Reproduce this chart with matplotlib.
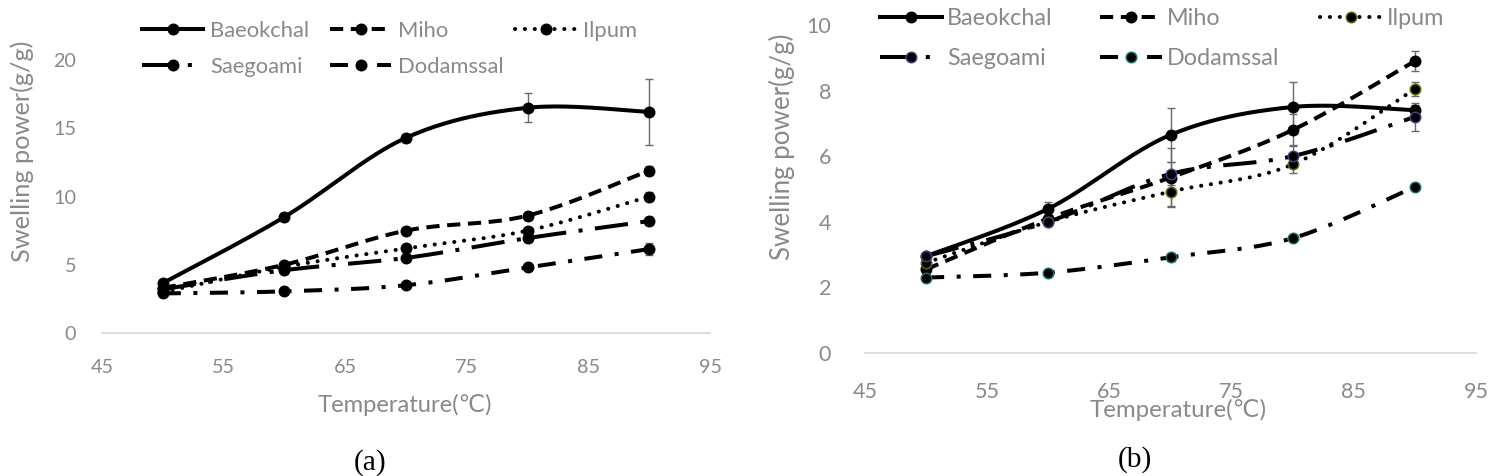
import numpy as np
import matplotlib
matplotlib.use("Agg")
import matplotlib.pyplot as plt
from matplotlib.lines import Line2D

plt.rcParams['lines.scale_dashes'] = False
plt.rcParams['font.family'] = ['Lato', 'DejaVu Sans']

# ---------------- data ----------------
temps = [50, 60, 70, 80, 90]
varieties = ["Baeokchal", "Miho", "Ilpum", "Saegoami", "Dodamssal"]

# panel (a)
a_baeokchal = [3.65, 8.5, 14.3, 16.5, 16.2]
a_miho      = [3.3, 5.0, 7.5, 8.6, 11.9]
a_ilpum     = [3.0, 4.85, 6.2, 7.5, 10.0]
a_saegoami  = [3.2, 4.6, 5.5, 6.95, 8.2]
a_dodamssal = [2.9, 3.05, 3.5, 4.8, 6.15]
a_err_baeokchal = [0.2, 0.3, 0.3, 1.05, 2.4]
a_err_miho      = [0.2, 0.2, 0.3, 0.3, 0.3]
a_err_ilpum     = [0.1, 0.2, 0.2, 0.3, 0.3]
a_err_saegoami  = [0.1, 0.2, 0.2, 0.3, 0.3]
a_err_dodamssal = [0.1, 0.1, 0.1, 0.2, 0.45]

# panel (b)
b_baeokchal = [2.95, 4.4, 6.65, 7.5, 7.4]
b_miho      = [2.55, 4.1, 5.35, 6.8, 8.9]
b_ilpum     = [2.75, 4.0, 4.92, 5.75, 8.05]
b_saegoami  = [2.95, 4.0, 5.46, 6.0, 7.2]
b_dodamssal = [2.3, 2.45, 2.92, 3.5, 5.07]
b_err_baeokchal = [0.1, 0.2, 0.82, 0.76, 0.15]
b_err_miho      = [0.1, 0.1, 0.9, 0.5, 0.3]
b_err_ilpum     = [0.1, 0.1, 0.45, 0.25, 0.2]
b_err_saegoami  = [0.1, 0.1, 0.35, 0.33, 0.42]
b_err_dodamssal = [0.05, 0.05, 0.1, 0.05, 0.1]

x_ticks = [45, 55, 65, 75, 85, 95]
a_yticks = [0, 5, 10, 15, 20]
b_yticks = [0, 2, 4, 6, 8, 10]

# ---------------- styles ----------------
TXT = '#898989'
AX = '#d9d9d9'
ERR = '#6a6a6a'
LW = 2.9
styles = {
    "Baeokchal": dict(ls='-'),
    "Miho": dict(ls=(0, (9.5, 5.5))),
    "Ilpum": dict(ls=(0, (0.1, 7.0))),
    "Saegoami": dict(ls=(0, (24, 9, 2.9, 9))),
    "Dodamssal": dict(ls=(0, (13, 9, 2.9, 9))),
}
a_edges = {k: 'black' for k in varieties}
b_edges = {"Baeokchal": 'black', "Miho": 'black', "Ilpum": '#5a6a10',
           "Saegoami": '#4a3a80', "Dodamssal": '#1a6a6a'}

W, H = 1493, 476
fig = plt.figure(figsize=(W / 100, H / 100), dpi=100)
renderer = fig.canvas.get_renderer()


def fit_size(text, target_px, family=None, base=14.0):
    t = fig.text(0, 0, text, fontsize=base, family=family) if family else fig.text(0, 0, text, fontsize=base)
    w = t.get_window_extent(renderer).width
    t.remove()
    return base * target_px / w


def smooth(ax, x, y, n=40):
    """Excel-like smoothed line (Bezier with 1/6 tangents) computed in display space."""
    pts = ax.transData.transform(np.column_stack([x, y]))
    P = np.vstack([pts[0], pts, pts[-1]])
    out = []
    for i in range(1, len(P) - 2):
        p0, p1, p2, p3 = P[i - 1], P[i], P[i + 1], P[i + 2]
        c1 = p1 + (p2 - p0) / 6.0
        c2 = p2 - (p3 - p1) / 6.0
        t = np.linspace(0, 1, n)[:, None]
        seg = ((1 - t) ** 3) * p1 + 3 * ((1 - t) ** 2) * t * c1 + 3 * (1 - t) * t ** 2 * c2 + t ** 3 * p2
        out.append(seg if i == 1 else seg[1:])
    out = np.vstack(out)
    d = ax.transData.inverted().transform(out)
    return d[:, 0], d[:, 1]


def px(x, y):
    return x / W, 1 - y / H


def make_panel(box, series, errs, ylim, yticks, edges, cfg):
    l, r, b, t = box
    ax = fig.add_axes([l / W, 1 - b / H, (r - l) / W, (b - t) / H])
    ax.set_xlim(45, 95)
    ax.set_ylim(*ylim)
    ax.set_xticks(x_ticks)
    ax.set_yticks(yticks)
    for s in ['top', 'right', 'left']:
        ax.spines[s].set_visible(False)
    ax.spines['bottom'].set_color(AX)
    ax.spines['bottom'].set_linewidth(1.3)
    tick_fs = fit_size(str(yticks[-1]), cfg['tick_w'])
    ax.tick_params(length=0, colors=TXT, labelsize=tick_fs)
    ax.tick_params(axis='x', pad=cfg['xpad'])
    ax.tick_params(axis='y', pad=cfg['ypad'])
    for name, y, e in zip(varieties, series, errs):
        ax.errorbar(temps, y, yerr=e, fmt='none', ecolor=ERR, elinewidth=1.0,
                    capsize=3, capthick=1.0, zorder=2)
        xs, ys = smooth(ax, temps, y)
        ax.plot(xs, ys, color='black', lw=LW,
                dash_capstyle='round' if name == 'Ilpum' else 'butt',
                solid_capstyle='round', zorder=3, **styles[name])
        ax.plot(temps, y, 'o', ms=7.5, mfc='black', mec=edges[name], mew=1.1, ls='none', zorder=4)

    xl_fs = fit_size('Temperature(℃)', cfg['xl_w'])
    ax.set_xlabel('Temperature(℃)', color=TXT, fontsize=xl_fs)
    ax.xaxis.set_label_coords((cfg['xl'][0] - l) / (r - l), (b - cfg['xl'][1]) / (b - t))
    ax.xaxis.label.set_va('center')
    yl_fs = fit_size('Swelling power(g/g)', cfg['yl_w'])
    ax.set_ylabel('Swelling power(g/g)', color=TXT, fontsize=yl_fs)
    ax.yaxis.set_label_coords((cfg['yl'][0] - l) / (r - l), (b - cfg['yl'][1]) / (b - t))
    ax.yaxis.label.set_va('center')

    # legend laid out like the Excel legend: 3 columns, filled row by row
    leg_fs = fit_size('Baeokchal', cfg['leg_w'])
    cap = leg_fs * 100 / 72 * 0.72
    for k, name in enumerate(varieties):
        row, col = divmod(k, 3)
        x0 = cfg['cols'][col]
        yy = cfg['rows'][row]
        L = cfg['hl']
        xa, ya = px(x0, yy)
        xb, _ = px(x0 + L, yy)
        xm, _ = px(x0 + L / 2, yy)
        fig.add_artist(Line2D([xa, xb], [ya, ya], transform=fig.transFigure, color='black', lw=LW,
                              dash_capstyle='round' if name == 'Ilpum' else 'butt', **styles[name]))
        fig.add_artist(Line2D([xm], [ya], transform=fig.transFigure, marker='o', ms=7.5,
                              mfc='black', mec=edges[name], mew=1.1, ls='none'))
        xt, yt = px(x0 + cfg['tx'], yy + cap / 2)
        fig.text(xt, yt, name, fontsize=leg_fs, color=TXT, ha='left', va='baseline')
    return ax


axa = make_panel((102, 710, 333, 60),
                 [a_baeokchal, a_miho, a_ilpum, a_saegoami, a_dodamssal],
                 [a_err_baeokchal, a_err_miho, a_err_ilpum, a_err_saegoami, a_err_dodamssal],
                 (0, 20), a_yticks, a_edges,
                 dict(tick_w=23, xpad=18.5, ypad=18.5, xl_w=175, xl=(405, 405), yl_w=223,
                      yl=(22, 151), leg_w=100, cols=[142, 330, 515], rows=[29, 65],
                      hl=61, tx=68))

axb = make_panel((865, 1476, 353, 25),
                 [b_baeokchal, b_miho, b_ilpum, b_saegoami, b_dodamssal],
                 [b_err_baeokchal, b_err_miho, b_err_ilpum, b_err_saegoami, b_err_dodamssal],
                 (0, 10), b_yticks, b_edges,
                 dict(tick_w=25, xpad=21, ypad=24.5, xl_w=177, xl=(1178, 410), yl_w=227,
                      yl=(782, 147), leg_w=106, cols=[880, 1100, 1320], rows=[17, 57],
                      hl=62, tx=67))

cap_fs = fit_size('(a)', 33, family='Liberation Serif')
fig.text(*px(370, 463), '(a)', ha='center', va='center', fontsize=cap_fs,
         family='Liberation Serif', color='black')
fig.text(*px(1135, 460), '(b)', ha='center', va='center', fontsize=cap_fs,
         family='Liberation Serif', color='black')

fig.savefig('out.png', dpi=100)
